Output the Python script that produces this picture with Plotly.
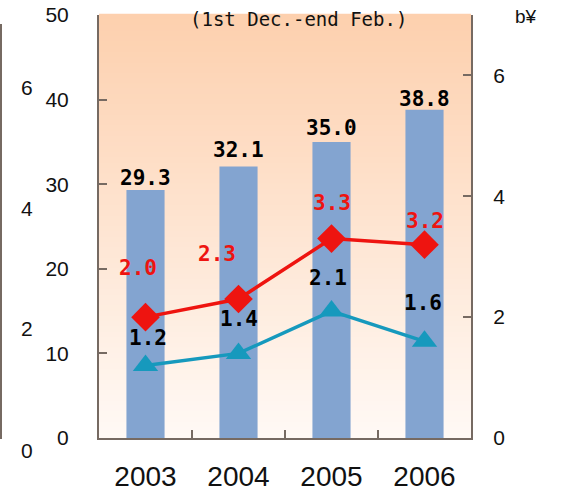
import plotly.graph_objects as go

# ---- data ----
years = ["2003", "2004", "2005", "2006"]
bar_values = [29.3, 32.1, 35.0, 38.8]
red_values = [2.0, 2.3, 3.3, 3.2]
teal_values = [1.2, 1.4, 2.1, 1.6]
left_ticks = [0, 10, 20, 30, 40, 50]
right_ticks = [0, 2, 4, 6]
subtitle = "(1st Dec.-end Feb.)"
unit_label = "b¥"
edge_ticks = ["6", "4", "2", "0"]

# ---- styling ----
W, H = 570, 494
ML, MR, MT, MB = 99, 99, 15, 56
PW, PH = W - ML - MR, H - MT - MB

BAR_C = "#83A4D0"
RED_C = "#EE1410"
TEAL_C = "#1699BD"
AX_C = "#766A62"
LBL_FONT = "DejaVu Sans Mono"
TICK_FONT = "Liberation Sans"


def px(x):
    return (x - ML) / PW


def py(y):
    return 1 - (y - MT) / PH


fig = go.Figure()

fig.add_trace(go.Bar(
    x=years, y=bar_values, marker=dict(color=BAR_C, line=dict(width=0)),
    width=0.41, yaxis="y", hoverinfo="skip"))

fig.add_trace(go.Scatter(
    x=years, y=red_values, yaxis="y2", mode="lines+markers",
    line=dict(color=RED_C, width=3.5),
    marker=dict(symbol="diamond", size=22, color=RED_C)))

fig.add_trace(go.Scatter(
    x=years, y=teal_values, yaxis="y2", mode="lines+markers",
    line=dict(color=TEAL_C, width=3.5),
    marker=dict(symbol="triangle-up", size=22, color=TEAL_C)))

# gradient background of plot area
shapes = []
N = 80
top = (253, 208, 174)
bot = (255, 249, 245)
for i in range(N):
    t = i / (N - 1)
    c = tuple(round(top[k] + (bot[k] - top[k]) * t) for k in range(3))
    y1 = 1 - i / N
    y0 = 1 - (i + 1) / N
    shapes.append(dict(type="rect", xref="paper", yref="paper",
                       x0=0, x1=1, y0=y0 - 0.001, y1=y1 + 0.001 if i else y1 + 0.003,
                       fillcolor="rgb(%d,%d,%d)" % c, line=dict(width=0),
                       layer="below"))

# cropped neighbouring axis at the far left edge
shapes.append(dict(type="line", xref="paper", yref="paper",
                   x0=px(1), x1=px(1), y0=py(24), y1=py(439),
                   line=dict(color=AX_C, width=2)))

annotations = []
bar_shift = [12, 16, 14, 11]
for i, (v, s) in enumerate(zip(bar_values, bar_shift)):
    annotations.append(dict(x=i, y=v, xref="x", yref="y", text="<b>%.1f</b>" % v,
                            showarrow=False, yanchor="middle", yshift=s,
                            font=dict(family=LBL_FONT, size=21, color="black")))

red_shift = [(-8, 49), (-22, 45), (0, 36), (0, 24)]
for i, (v, (dx, dy)) in enumerate(zip(red_values, red_shift)):
    annotations.append(dict(x=i, y=v, xref="x", yref="y2", text="<b>%.1f</b>" % v,
                            showarrow=False, yanchor="middle", yshift=dy, xshift=dx,
                            font=dict(family=LBL_FONT, size=21, color=RED_C)))

teal_shift = [(2, 27), (0, 34), (-4, 33), (-2, 38)]
for i, (v, (dx, dy)) in enumerate(zip(teal_values, teal_shift)):
    annotations.append(dict(x=i, y=v, xref="x", yref="y2", text="<b>%.1f</b>" % v,
                            showarrow=False, yanchor="middle", yshift=dy, xshift=dx,
                            font=dict(family=LBL_FONT, size=21, color="black")))

annotations.append(dict(x=px(298), y=py(19), xref="paper", yref="paper",
                        text=subtitle, showarrow=False, xanchor="center", yanchor="middle",
                        font=dict(family=LBL_FONT, size=19, color="#111111")))
annotations.append(dict(x=px(526), y=py(16), xref="paper", yref="paper",
                        text=unit_label, showarrow=False, xanchor="center", yanchor="middle",
                        font=dict(family=TICK_FONT, size=19, color="#111111")))

edge_y = [87, 208, 328, 450]
for t, yy in zip(edge_ticks, edge_y):
    annotations.append(dict(x=px(27), y=py(yy), xref="paper", yref="paper",
                            text=t, showarrow=False, xanchor="center", yanchor="middle",
                            font=dict(family=TICK_FONT, size=21, color="#111111")))

fig.update_layout(
    width=W, height=H, autosize=False,
    margin=dict(l=ML, r=MR, t=MT, b=MB, pad=0, autoexpand=False),
    paper_bgcolor="white", plot_bgcolor="rgba(0,0,0,0)",
    showlegend=False,
    bargap=0.59,
    xaxis=dict(type="category", showgrid=False, showline=True, linecolor=AX_C, linewidth=2,
               ticks="inside", tickson="boundaries", ticklen=8, tickcolor=AX_C, tickwidth=2,
               tickfont=dict(family=TICK_FONT, size=28, color="#111111"),
               ticklabelstandoff=12, zeroline=False, range=[-0.5, 3.5], automargin=False),
    yaxis=dict(range=[0, 50], tickvals=left_ticks, showgrid=False, zeroline=False,
               showline=True, linecolor=AX_C, linewidth=2, ticks="inside", ticklen=8,
               tickcolor=AX_C, tickwidth=1.5,
               tickfont=dict(family=TICK_FONT, size=21, color="#111111"),
               ticklabelstandoff=24, automargin=False),
    yaxis2=dict(range=[0, 7], tickvals=right_ticks, overlaying="y", side="right",
                showgrid=False, zeroline=False, showline=True, linecolor=AX_C, linewidth=2,
                ticks="inside", ticklen=8, tickcolor=AX_C, tickwidth=1.5,
                tickfont=dict(family=TICK_FONT, size=21, color="#111111"),
                ticklabelstandoff=16, automargin=False),
    shapes=shapes, annotations=annotations,
)

post = ("document.body.style.margin='0';document.body.style.padding='0';"
        "document.body.style.overflow='hidden';"
        "var gd=document.getElementById('{plot_id}');"
        "Plotly.relayout(gd,{width:570,height:494});")

fig.write_html("out.html", config=dict(responsive=False, displayModeBar=False),
               post_script=post)
